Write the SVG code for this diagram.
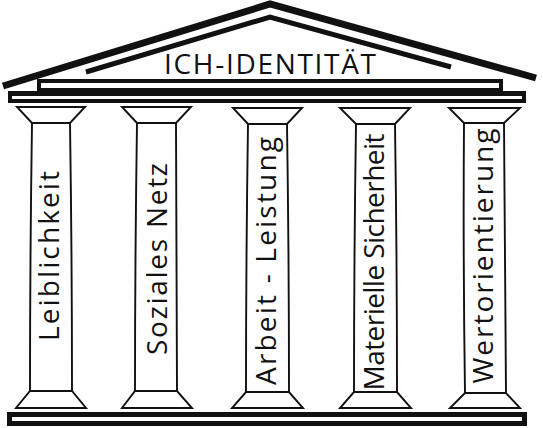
<svg xmlns="http://www.w3.org/2000/svg" width="543" height="428" viewBox="0 0 543 428">
<style>
.roof{fill:none;stroke:#111;stroke-linejoin:miter;stroke-linecap:butt}
.blk{fill:#111}
.wht{fill:#fff}
.col{fill:#fff;stroke:#111;stroke-width:1.9;stroke-linejoin:miter}
.lbl{font-family:"Open Sans","Noto Sans","Liberation Sans",sans-serif;font-size:28px;fill:#111;text-anchor:middle}
</style>
<rect width="543" height="428" fill="#fff"/>
<g id="roof">
<polyline class="roof" stroke-width="7" points="3,86 270,4 536,78"/>
<polyline class="roof" stroke-width="5" points="86,72 270,17 451,67"/>
<text class="lbl" x="270" y="74" font-size="25" textLength="212" lengthAdjust="spacing">ICH-IDENTITÄT</text>
</g>
<g id="entablature">
<rect class="blk" x="37" y="79" width="466" height="16"/>
<rect class="blk" x="8" y="91" width="518" height="12"/>
<rect class="wht" x="41" y="83" width="458" height="5"/>
<rect class="wht" x="12" y="96" width="510" height="3"/>
</g>
<g id="base">
<rect class="blk" x="7" y="412" width="520" height="14"/>
<rect class="wht" x="12" y="417" width="510" height="4"/>
</g>
<g id="col1">
<path class="col" d="M17,107 L85,107 L70,123 L32,123 Z"/>
<path class="col" d="M32,123 Q30,257 30,391 L72,391 Q72,257 70,123 Z"/>
<path class="col" d="M30,391 L72,391 L86,408 L16,408 Z"/>
<text class="lbl" transform="translate(59,256) rotate(-90)" textLength="170" lengthAdjust="spacing">Leiblichkeit</text>
</g>
<g id="col2">
<path class="col" d="M122,107 L191,107 L176,123 L137,123 Z"/>
<path class="col" d="M137,123 Q135,257 135,391 L177,391 Q177,257 176,123 Z"/>
<path class="col" d="M135,391 L177,391 L192,408 L122,408 Z"/>
<text class="lbl" transform="translate(167,259) rotate(-90)" textLength="192" lengthAdjust="spacing">Soziales Netz</text>
</g>
<g id="col3">
<path class="col" d="M233,108 L302,108 L287,124 L248,124 Z"/>
<path class="col" d="M248,124 Q246,258 246,392 L289,392 Q289,258 287,124 Z"/>
<path class="col" d="M246,392 L289,392 L303,408 L232,408 Z"/>
<text class="lbl" transform="translate(276,261) rotate(-90)" textLength="248" lengthAdjust="spacing">Arbeit - Leistung</text>
</g>
<g id="col4">
<path class="col" d="M340,108 L410,108 L395,124 L356,124 Z"/>
<path class="col" d="M356,124 Q354,258 354,392 L397,392 Q397,258 395,124 Z"/>
<path class="col" d="M354,392 L397,392 L411,408 L340,408 Z"/>
<text class="lbl" transform="translate(384,262) rotate(-90)" font-size="27" textLength="257" lengthAdjust="spacing">Materielle Sicherheit</text>
</g>
<g id="col5">
<path class="col" d="M449,108 L520,108 L504,123 L464,123 Z"/>
<path class="col" d="M464,123 Q463,258 465,393 L506,393 Q505,258 504,123 Z"/>
<path class="col" d="M465,393 L506,393 L520,408 L450,408 Z"/>
<text class="lbl" transform="translate(493,256) rotate(-90)" textLength="255" lengthAdjust="spacing">Wertorientierung</text>
</g>
</svg>
